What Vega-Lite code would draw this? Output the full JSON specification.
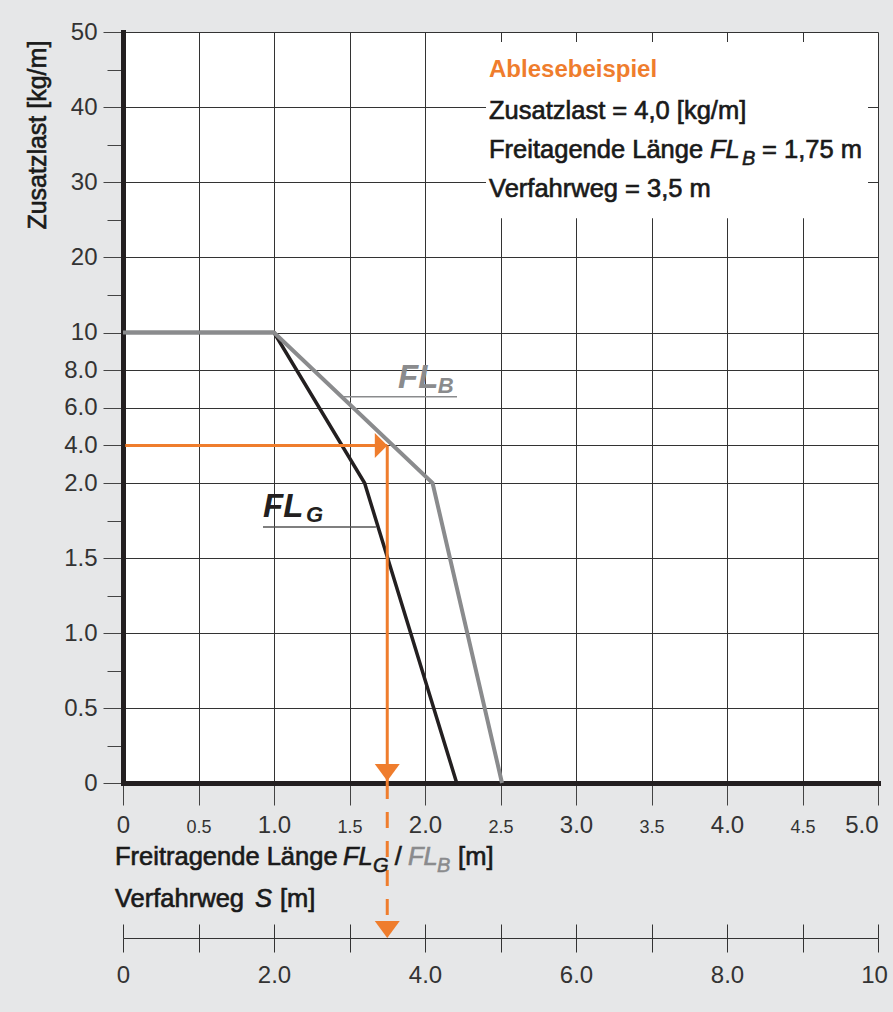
{
  "$schema": "https://vega.github.io/schema/vega-lite/v6.json",
  "width": 755,
  "height": 751,
  "autosize": {"type": "none"},
  "padding": {"left": 123, "top": 32, "right": 15, "bottom": 229},
  "background": "#e6e7e8",
  "config": {"view": {"fill": "white", "stroke": null}, "font": "Liberation Sans"},
  "datasets": {
    "curves": [
      {"series": "FL_G", "x": 0, "y": 10},
      {"series": "FL_G", "x": 1.0, "y": 10},
      {"series": "FL_G", "x": 1.6, "y": 2},
      {"series": "FL_G", "x": 2.21, "y": 0},
      {"series": "FL_B", "x": 0, "y": 10},
      {"series": "FL_B", "x": 1.0, "y": 10},
      {"series": "FL_B", "x": 2.05, "y": 2},
      {"series": "FL_B", "x": 2.51, "y": 0}
    ],
    "box": [{"x": 2.404, "x2": 4.934, "y": 48.67, "y2": 25.2}],
    "reading": [
      {"part": "horizontal", "x": 0.015, "x2": 1.75, "y": 4, "y2": 4},
      {"part": "vertical", "x": 1.75, "x2": 1.75, "y": 4, "y2": 0}
    ],
    "reading_s": [{"x": 1.75, "x2": 1.75, "y": 0, "y2": -0.95}],
    "heads_right": [{"x": 1.709, "y": 4}],
    "heads_down": [{"x": 1.75, "y": 0.07}, {"x": 1.75, "y": -0.9767}],
    "leaders": [
      {"series": "FL_B", "x": 1.45, "x2": 2.212, "y": 6.587},
      {"series": "FL_G", "x": 0.927, "x2": 1.675, "y": 1.7067}
    ],
    "labels": [
      {"g": "box_title", "text": "Ablesebeispiel", "x": 2.424, "y": 44.0},
      {"g": "box_line", "text": "Zusatzlast = 4,0 [kg/m]", "x": 2.424, "y": 38.4},
      {"g": "box_line", "text": "Freitagende Länge", "x": 2.424, "y": 33.2},
      {"g": "box_italic", "text": "FL", "x": 3.887, "y": 33.2},
      {"g": "box_sub", "text": "B", "x": 4.099, "y": 32.27},
      {"g": "box_line", "text": "= 1,75 m", "x": 4.232, "y": 33.2},
      {"g": "box_line", "text": "Verfahrweg = 3,5 m", "x": 2.424, "y": 28.0},
      {"g": "axis_text", "text": "Freitragende Länge", "x": -0.053, "y": -0.5467},
      {"g": "axis_italic", "text": "FL", "x": 1.457, "y": -0.5467},
      {"g": "axis_sub", "text": "G", "x": 1.656, "y": -0.593},
      {"g": "axis_text", "text": "/", "x": 1.8, "y": -0.5467},
      {"g": "axis_gray_italic", "text": "FL", "x": 1.887, "y": -0.5467},
      {"g": "axis_gray_sub", "text": "B", "x": 2.079, "y": -0.593},
      {"g": "axis_text", "text": "[m]", "x": 2.219, "y": -0.5467},
      {"g": "axis_text", "text": "Verfahrweg", "x": -0.053, "y": -0.8267},
      {"g": "axis_italic", "text": "S", "x": 0.874, "y": -0.8267},
      {"g": "axis_text", "text": "[m]", "x": 1.04, "y": -0.8267},
      {"g": "y_title", "text": "Zusatzlast [kg/m]", "x": -0.563, "y": 36.27},
      {"g": "big_G", "text": "FL", "x": 0.927, "y": 1.773},
      {"g": "big_G_sub", "text": "G", "x": 1.212, "y": 1.74},
      {"g": "big_B", "text": "FL", "x": 1.821, "y": 7.067},
      {"g": "big_B_sub", "text": "B", "x": 2.085, "y": 6.8}
    ]
  },
  "resolve": {"axis": {"x": "independent", "y": "independent"}},
  "layer": [
    {
      "data": {"name": "curves"},
      "transform": [{"filter": "datum.series == 'FL_G'"}],
      "mark": {"type": "line", "color": "#231f20", "strokeWidth": 3.5},
      "encoding": {
        "x": {"field": "x", "type": "quantitative", "scale": {"domain": [0, 5], "nice": false, "zero": false},
          "axis": {"orient": "bottom", "title": null, "values": [0, 0.5, 1, 1.5, 2, 2.5, 3, 3.5, 4, 4.5, 5],
            "grid": true, "gridColor": "#333333", "gridWidth": 1,
            "domain": true, "domainColor": "#231f20", "domainWidth": 5, "domainCap": "square",
            "ticks": true, "tickSize": 22, "tickColor": "#444", "tickWidth": 1,
            "labelExpr": "datum.value == 0 ? '0' : format(datum.value, '.1f')",
            "labelFontSize": {"condition": {"test": "datum.value % 1 == 0", "value": 24}, "value": 18},
            "labelAlign": {"condition": {"test": "datum.value == 5", "value": "right"}, "value": "center"},
            "labelBaseline": "alphabetic", "labelPadding": 27, "labelColor": "#333",
            "labelFont": "Liberation Sans", "labelOverlap": false, "labelFlush": false, "labelBound": false}},
        "y": {"field": "y", "type": "quantitative", "scale": {"domain": [0, 2, 10, 50], "range": [751, 451, 300.5, 0], "nice": false, "zero": false},
          "axis": {"orient": "left", "title": null,
            "values": [0, 0.25, 0.5, 0.75, 1, 1.25, 1.5, 1.75, 2, 4, 6, 8, 10, 15, 20, 25, 30, 35, 40, 45, 50],
            "grid": true, "gridColor": "#333333", "gridWidth": 1,
            "gridOpacity": {"condition": {"test": "indexof([0.25,0.75,1.25,1.75,15,25,35,45], datum.value) >= 0", "value": 0}, "value": 1},
            "domain": true, "domainColor": "#231f20", "domainWidth": 5, "domainCap": "square",
            "ticks": true, "tickColor": "#444", "tickWidth": 1,
            "tickSize": {"condition": {"test": "indexof([0.25,0.75,1.25,1.75,15,25,35,45], datum.value) >= 0", "value": 16}, "value": 20},
            "labelExpr": "indexof([0.25,0.75,1.25,1.75,15,25,35,45], datum.value) >= 0 ? '' : datum.value == 0 ? '0' : datum.value < 10 ? format(datum.value, '.1f') : format(datum.value, 'd')",
            "labelFontSize": 24, "labelPadding": 6, "labelBaseline": "middle", "labelColor": "#333",
            "labelFont": "Liberation Sans", "labelOverlap": false, "labelFlush": false, "labelBound": false}}
      }
    },
    {
      "data": {"name": "curves"},
      "transform": [{"filter": "datum.series == 'FL_B'"}],
      "mark": {"type": "line", "color": "#8a8b8d", "strokeWidth": 4},
      "encoding": {
        "x": {"field": "x", "type": "quantitative", "scale": {"domain": [0, 5], "nice": false, "zero": false}, "axis": null},
        "y": {"field": "y", "type": "quantitative", "scale": {"domain": [0, 2, 10, 50], "range": [751, 451, 300.5, 0], "nice": false, "zero": false}, "axis": null}
      }
    },
    {
      "data": {"name": "box"},
      "mark": {"type": "rect", "fill": "white", "stroke": null},
      "encoding": {
        "x": {"field": "x", "type": "quantitative", "scale": {"domain": [0, 5], "nice": false, "zero": false}, "axis": null},
        "x2": {"field": "x2"},
        "y": {"field": "y", "type": "quantitative", "scale": {"domain": [0, 2, 10, 50], "range": [751, 451, 300.5, 0], "nice": false, "zero": false}, "axis": null},
        "y2": {"field": "y2"}
      }
    },
    {
      "data": {"name": "reading"},
      "mark": {"type": "rule", "color": "#ef7d2d", "strokeWidth": 3},
      "encoding": {
        "x": {"field": "x", "type": "quantitative", "scale": {"domain": [0, 5], "nice": false, "zero": false}, "axis": null},
        "x2": {"field": "x2"},
        "y": {"field": "y", "type": "quantitative", "scale": {"domain": [0, 2, 10, 50], "range": [751, 451, 300.5, 0], "nice": false, "zero": false}, "axis": null},
        "y2": {"field": "y2"}
      }
    },
    {
      "data": {"name": "reading_s"},
      "mark": {"type": "rule", "color": "#ef7d2d", "strokeWidth": 3, "strokeDash": [16, 13]},
      "encoding": {
        "x": {"field": "x", "type": "quantitative", "scale": {"domain": [0, 5], "nice": false, "zero": false},
          "axis": {"orient": "bottom", "offset": 155, "title": null, "values": [0, 0.5, 1, 1.5, 2, 2.5, 3, 3.5, 4, 4.5, 5],
            "grid": false, "domain": true, "domainColor": "#333", "domainWidth": 1,
            "ticks": true, "tickSize": 14, "tickColor": "#333", "tickWidth": 1,
            "labelExpr": "datum.value == 0 ? '0' : datum.value == 5 ? '10' : datum.value % 1 == 0 ? format(datum.value * 2, '.1f') : ''",
            "labelOffset": {"condition": {"test": "datum.value == 5", "value": -4}, "value": 0},
            "labelFontSize": 24, "labelBaseline": "alphabetic", "labelPadding": 30, "labelColor": "#333",
            "labelFont": "Liberation Sans", "labelOverlap": false, "labelFlush": false, "labelBound": false}},
        "x2": {"field": "x2"},
        "y": {"field": "y", "type": "quantitative", "scale": {"domain": [0, 2, 10, 50], "range": [751, 451, 300.5, 0], "nice": false, "zero": false}, "axis": null},
        "y2": {"field": "y2"}
      }
    },
    {
      "data": {"name": "leaders"},
      "transform": [{"filter": "datum.series == 'FL_B'"}],
      "mark": {"type": "rule", "color": "#8a8b8d", "strokeWidth": 1.5},
      "encoding": {
        "x": {"field": "x", "type": "quantitative", "scale": {"domain": [0, 5], "nice": false, "zero": false},
          "axis": {"orient": "bottom", "offset": 141, "title": null, "values": [0, 0.5, 1, 1.5, 2, 2.5, 3, 3.5, 4, 4.5, 5],
            "grid": false, "domain": false, "labels": false,
            "ticks": true, "tickSize": 14, "tickColor": "#333", "tickWidth": 1}},
        "x2": {"field": "x2"},
        "y": {"field": "y", "type": "quantitative", "scale": {"domain": [0, 2, 10, 50], "range": [751, 451, 300.5, 0], "nice": false, "zero": false}, "axis": null}
      }
    },
    {
      "data": {"name": "leaders"},
      "transform": [{"filter": "datum.series == 'FL_G'"}],
      "mark": {"type": "rule", "color": "#555555", "strokeWidth": 1.5},
      "encoding": {
        "x": {"field": "x", "type": "quantitative", "scale": {"domain": [0, 5], "nice": false, "zero": false}, "axis": null},
        "x2": {"field": "x2"},
        "y": {"field": "y", "type": "quantitative", "scale": {"domain": [0, 2, 10, 50], "range": [751, 451, 300.5, 0], "nice": false, "zero": false}, "axis": null}
      }
    },
    {
      "data": {"name": "heads_right"},
      "mark": {"type": "point", "shape": "M-0.5,-1L0.5,0L-0.5,1Z", "filled": true, "size": 625, "color": "#ef7d2d", "opacity": 1},
      "encoding": {
        "x": {"field": "x", "type": "quantitative", "scale": {"domain": [0, 5], "nice": false, "zero": false}, "axis": null},
        "y": {"field": "y", "type": "quantitative", "scale": {"domain": [0, 2, 10, 50], "range": [751, 451, 300.5, 0], "nice": false, "zero": false}, "axis": null}
      }
    },
    {
      "data": {"name": "heads_down"},
      "mark": {"type": "point", "shape": "M-1,-0.68L1,-0.68L0,0.68Z", "filled": true, "size": 625, "color": "#ef7d2d", "opacity": 1},
      "encoding": {
        "x": {"field": "x", "type": "quantitative", "scale": {"domain": [0, 5], "nice": false, "zero": false}, "axis": null},
        "y": {"field": "y", "type": "quantitative", "scale": {"domain": [0, 2, 10, 50], "range": [751, 451, 300.5, 0], "nice": false, "zero": false}, "axis": null}
      }
    },
    {
      "data": {"name": "labels"},
      "transform": [{"filter": {"field": "g", "oneOf": ["box_title"]}}],
      "mark": {"type": "text", "align": "left", "baseline": "alphabetic", "font": "Liberation Sans", "fontSize": 24, "fontWeight": "bold", "color": "#ef7d2d"},
      "encoding": {
        "x": {"field": "x", "type": "quantitative", "scale": {"domain": [0, 5], "nice": false, "zero": false}, "axis": null},
        "y": {"field": "y", "type": "quantitative", "scale": {"domain": [0, 2, 10, 50], "range": [751, 451, 300.5, 0], "nice": false, "zero": false}, "axis": null},
        "text": {"field": "text"}
      }
    },
    {
      "data": {"name": "labels"},
      "transform": [{"filter": {"field": "g", "oneOf": ["box_line", "axis_text"]}}],
      "mark": {"type": "text", "align": "left", "baseline": "alphabetic", "font": "Liberation Sans", "fontSize": 25.5, "color": "#1a1a1a", "stroke": "#1a1a1a", "strokeWidth": 0.65},
      "encoding": {
        "x": {"field": "x", "type": "quantitative", "scale": {"domain": [0, 5], "nice": false, "zero": false}, "axis": null},
        "y": {"field": "y", "type": "quantitative", "scale": {"domain": [0, 2, 10, 50], "range": [751, 451, 300.5, 0], "nice": false, "zero": false}, "axis": null},
        "text": {"field": "text"}
      }
    },
    {
      "data": {"name": "labels"},
      "transform": [{"filter": {"field": "g", "oneOf": ["y_title"]}}],
      "mark": {"type": "text", "align": "center", "baseline": "middle", "angle": 270, "font": "Liberation Sans", "fontSize": 25, "color": "#1a1a1a", "stroke": "#1a1a1a", "strokeWidth": 0.6},
      "encoding": {
        "x": {"field": "x", "type": "quantitative", "scale": {"domain": [0, 5], "nice": false, "zero": false}, "axis": null},
        "y": {"field": "y", "type": "quantitative", "scale": {"domain": [0, 2, 10, 50], "range": [751, 451, 300.5, 0], "nice": false, "zero": false}, "axis": null},
        "text": {"field": "text"}
      }
    },
    {
      "data": {"name": "labels"},
      "transform": [{"filter": {"field": "g", "oneOf": ["box_italic", "axis_italic"]}}],
      "mark": {"type": "text", "align": "left", "baseline": "alphabetic", "font": "Liberation Sans", "fontSize": 25.5, "fontStyle": "italic", "color": "#1a1a1a", "stroke": "#1a1a1a", "strokeWidth": 0.65},
      "encoding": {
        "x": {"field": "x", "type": "quantitative", "scale": {"domain": [0, 5], "nice": false, "zero": false}, "axis": null},
        "y": {"field": "y", "type": "quantitative", "scale": {"domain": [0, 2, 10, 50], "range": [751, 451, 300.5, 0], "nice": false, "zero": false}, "axis": null},
        "text": {"field": "text"}
      }
    },
    {
      "data": {"name": "labels"},
      "transform": [{"filter": {"field": "g", "oneOf": ["box_sub", "axis_sub"]}}],
      "mark": {"type": "text", "align": "left", "baseline": "alphabetic", "font": "Liberation Sans", "fontSize": 20, "fontStyle": "italic", "color": "#1a1a1a", "stroke": "#1a1a1a", "strokeWidth": 0.5},
      "encoding": {
        "x": {"field": "x", "type": "quantitative", "scale": {"domain": [0, 5], "nice": false, "zero": false}, "axis": null},
        "y": {"field": "y", "type": "quantitative", "scale": {"domain": [0, 2, 10, 50], "range": [751, 451, 300.5, 0], "nice": false, "zero": false}, "axis": null},
        "text": {"field": "text"}
      }
    },
    {
      "data": {"name": "labels"},
      "transform": [{"filter": {"field": "g", "oneOf": ["axis_gray_italic"]}}],
      "mark": {"type": "text", "align": "left", "baseline": "alphabetic", "font": "Liberation Sans", "fontSize": 25.5, "fontStyle": "italic", "color": "#8a8b8d", "stroke": "#8a8b8d", "strokeWidth": 0.65},
      "encoding": {
        "x": {"field": "x", "type": "quantitative", "scale": {"domain": [0, 5], "nice": false, "zero": false}, "axis": null},
        "y": {"field": "y", "type": "quantitative", "scale": {"domain": [0, 2, 10, 50], "range": [751, 451, 300.5, 0], "nice": false, "zero": false}, "axis": null},
        "text": {"field": "text"}
      }
    },
    {
      "data": {"name": "labels"},
      "transform": [{"filter": {"field": "g", "oneOf": ["axis_gray_sub"]}}],
      "mark": {"type": "text", "align": "left", "baseline": "alphabetic", "font": "Liberation Sans", "fontSize": 20, "fontStyle": "italic", "color": "#8a8b8d", "stroke": "#8a8b8d", "strokeWidth": 0.5},
      "encoding": {
        "x": {"field": "x", "type": "quantitative", "scale": {"domain": [0, 5], "nice": false, "zero": false}, "axis": null},
        "y": {"field": "y", "type": "quantitative", "scale": {"domain": [0, 2, 10, 50], "range": [751, 451, 300.5, 0], "nice": false, "zero": false}, "axis": null},
        "text": {"field": "text"}
      }
    },
    {
      "data": {"name": "labels"},
      "transform": [{"filter": {"field": "g", "oneOf": ["big_G"]}}],
      "mark": {"type": "text", "align": "left", "baseline": "alphabetic", "font": "Liberation Sans", "fontSize": 33, "fontStyle": "italic", "fontWeight": "bold", "color": "#231f20"},
      "encoding": {
        "x": {"field": "x", "type": "quantitative", "scale": {"domain": [0, 5], "nice": false, "zero": false}, "axis": null},
        "y": {"field": "y", "type": "quantitative", "scale": {"domain": [0, 2, 10, 50], "range": [751, 451, 300.5, 0], "nice": false, "zero": false}, "axis": null},
        "text": {"field": "text"}
      }
    },
    {
      "data": {"name": "labels"},
      "transform": [{"filter": {"field": "g", "oneOf": ["big_G_sub"]}}],
      "mark": {"type": "text", "align": "left", "baseline": "alphabetic", "font": "Liberation Sans", "fontSize": 22, "fontStyle": "italic", "fontWeight": "bold", "color": "#231f20"},
      "encoding": {
        "x": {"field": "x", "type": "quantitative", "scale": {"domain": [0, 5], "nice": false, "zero": false}, "axis": null},
        "y": {"field": "y", "type": "quantitative", "scale": {"domain": [0, 2, 10, 50], "range": [751, 451, 300.5, 0], "nice": false, "zero": false}, "axis": null},
        "text": {"field": "text"}
      }
    },
    {
      "data": {"name": "labels"},
      "transform": [{"filter": {"field": "g", "oneOf": ["big_B"]}}],
      "mark": {"type": "text", "align": "left", "baseline": "alphabetic", "font": "Liberation Sans", "fontSize": 33, "fontStyle": "italic", "fontWeight": "bold", "color": "#8a8b8d"},
      "encoding": {
        "x": {"field": "x", "type": "quantitative", "scale": {"domain": [0, 5], "nice": false, "zero": false}, "axis": null},
        "y": {"field": "y", "type": "quantitative", "scale": {"domain": [0, 2, 10, 50], "range": [751, 451, 300.5, 0], "nice": false, "zero": false}, "axis": null},
        "text": {"field": "text"}
      }
    },
    {
      "data": {"name": "labels"},
      "transform": [{"filter": {"field": "g", "oneOf": ["big_B_sub"]}}],
      "mark": {"type": "text", "align": "left", "baseline": "alphabetic", "font": "Liberation Sans", "fontSize": 22, "fontStyle": "italic", "fontWeight": "bold", "color": "#8a8b8d"},
      "encoding": {
        "x": {"field": "x", "type": "quantitative", "scale": {"domain": [0, 5], "nice": false, "zero": false}, "axis": null},
        "y": {"field": "y", "type": "quantitative", "scale": {"domain": [0, 2, 10, 50], "range": [751, 451, 300.5, 0], "nice": false, "zero": false}, "axis": null},
        "text": {"field": "text"}
      }
    }
  ]
}
